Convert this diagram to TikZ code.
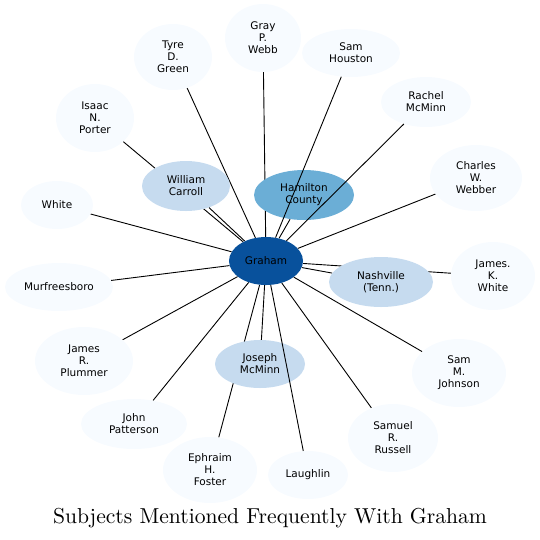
\documentclass[tikz,border=0pt]{standalone}
\usepackage{fontspec}
\newfontfamily\labelfont{DejaVu Sans}
\newfontfamily\titlefont[Extension=.otf]{lmroman10-regular}
\usetikzlibrary{shapes.geometric}
\definecolor{hub}{HTML}{08519C}
\definecolor{mid}{HTML}{6BAED6}
\definecolor{pale}{HTML}{C6DBEF}
\definecolor{faint}{HTML}{F7FBFF}
\pgfdeclarelayer{under}
\pgfdeclarelayer{over}
\pgfsetlayers{under,main,over}

\begin{document}
\begin{tikzpicture}[x=1pt, y=-1pt,
  subj/.style={ellipse, fill=faint, inner sep=0pt, align=center,
               font=\labelfont\fontsize{10.5}{12}\selectfont},
  near/.style={subj, fill=pale},
  link/.style={black, line width=0.9pt}]
\useasboundingbox (0,0) rectangle (540,539);
% outer ring of subjects
\foreach \n/\x/\y/\w/\h/\l in
  {green/173/57/78/66/{Tyre\\D.\\Green}, webb/263/38/76/68/{Gray\\P.\\Webb},
   houston/351/53/98/48/{Sam\\Houston}, rachel/426/102/90/50/{Rachel\\McMinn},
   webber/476/178/92/66/{Charles\\W.\\Webber}, kwhite/493/276/84/68/{James.\\K.\\White},
   johnson/459/373/94/68/{Sam\\M.\\Johnson}, russell/393/438/90/68/{Samuel\\R.\\Russell},
   laughlin/308/475/80/48/Laughlin, foster/210/470/94/66/{Ephraim\\H.\\Foster},
   patterson/134/424/106/50/{John\\Patterson}, plummer/84/361/98/68/{James\\R.\\Plummer},
   murfree/59/287/108/48/Murfreesboro, white/57/205/72/48/White,
   porter/95/118/78/68/{Isaac\\N.\\Porter}}
  \node[subj, minimum width=\w pt, minimum height=\h pt] (\n) at (\x,\y) {\l};
% inner subjects
\foreach \n/\x/\y/\w/\h/\l in
  {carroll/186/186/88/50/{William\\Carroll}, nashville/381/282/104/50/{Nashville\\(Tenn.)},
   jmcminn/260/364/90/48/{Joseph\\McMinn}}
  \node[near, minimum width=\w pt, minimum height=\h pt] (\n) at (\x,\y) {\l};
\node[subj, fill=mid, minimum width=100pt, minimum height=50pt] (hamilton) at (304,195) {Hamilton\\County};
\node[subj, fill=hub, minimum width=74pt, minimum height=48pt] (graham) at (266,261) {Graham};
\node[font=\titlefont\fontsize{21.6}{26}\selectfont] (title) at (270,518) {Subjects Mentioned Frequently With Graham};
\begin{pgfonlayer}{under}
\foreach \t in {green,webb,webber,kwhite,johnson,russell,foster,patterson,plummer,
                murfree,white,porter,carroll,nashville,jmcminn,hamilton}
  \draw[link] (graham) -- (\t);
\end{pgfonlayer}
\begin{pgfonlayer}{over}
\foreach \t in {houston,rachel,laughlin}
  \draw[link] (graham) -- (\t);
\end{pgfonlayer}
\end{tikzpicture}
\end{document}
